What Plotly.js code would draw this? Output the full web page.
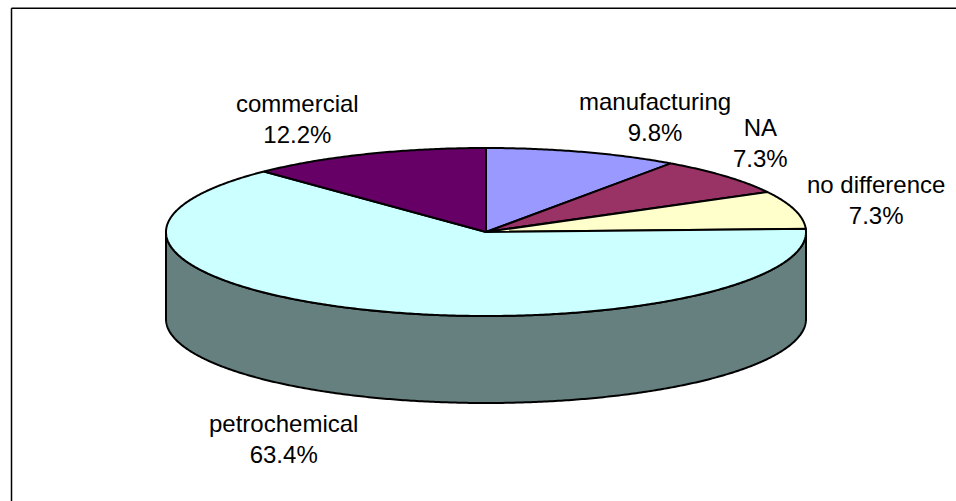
<!DOCTYPE html>
<html>
<head>
<meta charset="utf-8">
<script src="https://cdn.plot.ly/plotly-3.0.1.min.js"></script>
<style>html,body{margin:0;padding:0;background:#fff}#chart{width:956px;height:501px}</style>
</head>
<body>
<div id="chart"></div>
<script>
// Sector shares in percent, clockwise from twelve o'clock
const sectors = ["manufacturing", "NA", "no difference", "petrochemical", "commercial"];
const shares = [9.8, 7.3, 7.3, 63.4, 12.2];
const topColors = ["#9999FF", "#993366", "#FFFFCC", "#CCFFFF", "#660066"];
const sideColor = "#667F7F";

// Label anchor points in pixels of the 956x501 canvas
const labelX = [655, 760, 876, 283.5, 297];
const labelY = [117, 143, 200, 439, 119];

// Disc geometry, in the same pixel coordinates
const cx = 486, cy = 232, rx = 320, ry = 84, depth = 87;

const pt = (deg, dy) => [cx + rx * Math.sin(deg * Math.PI / 180),
                         cy + dy - ry * Math.cos(deg * Math.PI / 180)];

function arc(a0, a1, dy) {
  const n = Math.max(2, Math.ceil(Math.abs(a1 - a0) * 2));
  const out = [];
  for (let i = 0; i <= n; i++) out.push(pt(a0 + (a1 - a0) * i / n, dy));
  return out;
}

function polygon(points, fill, name) {
  return {
    type: "scatter", mode: "lines", name: name, showlegend: false, hoverinfo: "skip",
    x: points.map(p => p[0]), y: points.map(p => p[1]),
    fill: "toself", fillcolor: fill,
    line: {color: "#000", width: 2, simplify: false}
  };
}

const traces = [];

// Only the part of the rim facing the viewer (right to left, through six o'clock) is visible
const rim = arc(90, 270, 0).concat(arc(270, 90, depth));
rim.push(rim[0]);
traces.push(polygon(rim, sideColor, "rim"));

let start = 0;
shares.forEach((v, i) => {
  const end = start + v * 3.6;
  const wedge = [[cx, cy]].concat(arc(start, end, 0));
  wedge.push([cx, cy]);
  traces.push(polygon(wedge, topColors[i], sectors[i]));
  start = end;
});

const annotations = sectors.map((s, i) => ({
  x: labelX[i], y: labelY[i], xref: "x", yref: "y",
  text: s + "<br>" + shares[i].toFixed(1) + "%",
  showarrow: false, align: "center",
  xanchor: "center", yanchor: "middle",
  font: {family: "Liberation Sans, Arial, sans-serif", size: 24, color: "#000"}
}));

const hidden = {visible: false, fixedrange: true};
const frameLine = {color: "#000", width: 1.5};
const layout = {
  width: 956, height: 501,
  margin: {l: 0, r: 0, t: 0, b: 0},
  paper_bgcolor: "#fff", plot_bgcolor: "#fff",
  xaxis: Object.assign({range: [0, 956]}, hidden),
  yaxis: Object.assign({range: [501, 0]}, hidden),
  showlegend: false,
  annotations: annotations,
  // Frame runs off the canvas on the right and at the bottom
  shapes: [
    {type: "line", xref: "x", yref: "y", x0: 11.5, y0: 8.3, x1: 956, y1: 8.3, line: frameLine, layer: "below"},
    {type: "line", xref: "x", yref: "y", x0: 11.5, y0: 8.3, x1: 11.5, y1: 501, line: frameLine, layer: "below"}
  ]
};

Plotly.newPlot("chart", traces, layout, {displayModeBar: false, staticPlot: true});
</script>
</body>
</html>
